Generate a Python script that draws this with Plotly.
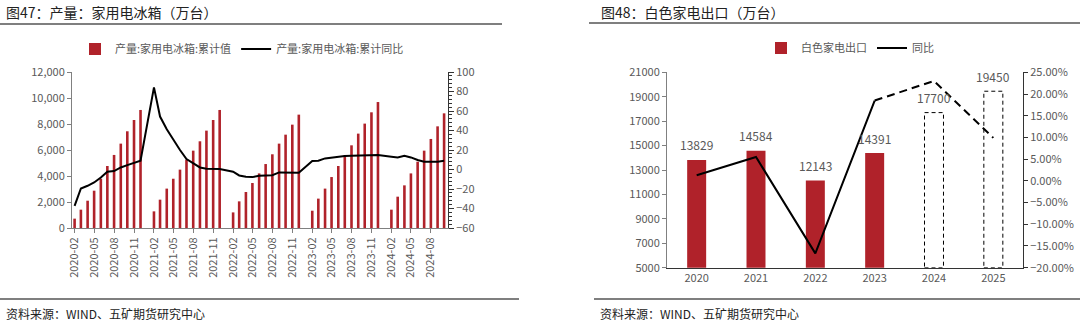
import plotly.graph_objects as go

# ---------------- data ----------------
months = [
    "2020-02", "2020-03", "2020-04", "2020-05", "2020-06", "2020-07", "2020-08", "2020-09", "2020-10", "2020-11", "2020-12",
    "2021-02", "2021-03", "2021-04", "2021-05", "2021-06", "2021-07", "2021-08", "2021-09", "2021-10", "2021-11", "2021-12",
    "2022-02", "2022-03", "2022-04", "2022-05", "2022-06", "2022-07", "2022-08", "2022-09", "2022-10", "2022-11", "2022-12",
    "2023-02", "2023-03", "2023-04", "2023-05", "2023-06", "2023-07", "2023-08", "2023-09", "2023-10", "2023-11", "2023-12",
    "2024-02", "2024-03", "2024-04", "2024-05", "2024-06", "2024-07", "2024-08", "2024-09", "2024-10",
]
fridge_cum = [
    720, 1410, 2100, 2870, 3790, 4770, 5620, 6490, 7440, 8310, 9080,
    1280, 2180, 3030, 3790, 4490, 5260, 5950, 6670, 7490, 8310, 9080,
    1200, 2050, 2770, 3460, 4200, 4920, 5670, 6490, 7180, 7950, 8720,
    1330, 2260, 3030, 3920, 4770, 5590, 6360, 7260, 8030, 8900, 9690,
    1410, 2410, 3280, 4200, 5100, 5950, 6850, 7820, 8820,
]
fridge_yoy = [
    -37.3, -19.5, -16.7, -13.3, -8.2, -2.3, -1.6, 2.1, 4.5, 6.6, 9.0,
    84.2, 54.3, 41.3, 30.3, 20.0, 10.7, 6.3, 2.1, 0.8, 0.4, 0.4,
    -2.3, -6.1, -7.5, -7.8, -6.4, -5.8, -5.8, -3.0, -3.0, -3.3, -3.3,
    8.7, 9.0, 11.4, 12.4, 13.1, 13.8, 14.2, 14.5, 14.5, 14.5, 14.8,
    13.1, 12.4, 14.2, 12.4, 9.7, 8.0, 8.0, 8.0, 9.0,
]

years = [2020, 2021, 2022, 2023, 2024, 2025]
export_val = [13829, 14584, 12143, 14391, 17700, 19450]
export_yoy = [1.3, 5.5, -16.7, 18.5, 23.0, 9.9]
n_actual = 4  # first 4 years actual, rest forecast

# ---------------- style ----------------
RED = "#B0222A"
GRAY_TXT = "#595959"
FONT = "Noto Sans CJK SC"
W, H = 1080, 324


def px_x(x):
    return x / W


def px_y(y):
    return 1 - y / H


fig = go.Figure()

# Left chart
fig.add_trace(go.Bar(
    x=months, y=fridge_cum, name="产量:家用电冰箱:累计值",
    marker=dict(color=RED, line=dict(width=0)), width=12 * 86400000,
    xaxis="x", yaxis="y", legend="legend",
))
fig.add_trace(go.Scatter(
    x=months, y=fridge_yoy, name="产量:家用电冰箱:累计同比", mode="lines",
    line=dict(color="black", width=2), xaxis="x", yaxis="y2", legend="legend",
))

# Right chart
fig.add_trace(go.Bar(
    x=years[:n_actual], y=export_val[:n_actual], name="白色家电出口",
    marker=dict(color=RED, line=dict(width=0)), width=0.32,
    xaxis="x2", yaxis="y3", legend="legend2",
))
fig.add_trace(go.Scatter(
    x=years[:n_actual], y=export_yoy[:n_actual], name="同比", mode="lines",
    line=dict(color="black", width=2), xaxis="x2", yaxis="y4", legend="legend2",
))
fig.add_trace(go.Scatter(
    x=years[n_actual - 1:], y=export_yoy[n_actual - 1:], name="同比预测", mode="lines",
    line=dict(color="black", width=2, dash="8px,5px"), xaxis="x2", yaxis="y4",
    showlegend=False,
))

Y3_MIN, Y3_MAX = 5000, 21000
shapes = []
for yr, v in zip(years[n_actual:], export_val[n_actual:]):
    shapes.append(dict(type="rect", xref="x2", yref="y3", x0=yr - 0.16, x1=yr + 0.16,
                       y0=Y3_MIN, y1=v, line=dict(color="black", width=1, dash="4px,3px"),
                       fillcolor="rgba(0,0,0,0)", layer="below"))

# decorative rules
shapes += [
    dict(type="line", xref="paper", yref="paper", x0=0, x1=px_x(502), y0=px_y(24), y1=px_y(24),
         line=dict(color="#7f7f7f", width=2)),
    dict(type="line", xref="paper", yref="paper", x0=px_x(589), x1=1, y0=px_y(23), y1=px_y(23),
         line=dict(color="#7f7f7f", width=2)),
    dict(type="line", xref="paper", yref="paper", x0=0, x1=px_x(519), y0=px_y(299), y1=px_y(299),
         line=dict(color="#7f7f7f", width=2)),
    dict(type="line", xref="paper", yref="paper", x0=px_x(594), x1=1, y0=px_y(299), y1=px_y(299),
         line=dict(color="#7f7f7f", width=2)),
]

annotations = [
    dict(text="图47：产量：家用电冰箱（万台）", xref="paper", yref="paper", x=px_x(4), y=px_y(12),
         xanchor="left", yanchor="middle", showarrow=False, font=dict(size=14, color="#222")),
    dict(text="图48：白色家电出口（万台）", xref="paper", yref="paper", x=px_x(599), y=px_y(12),
         xanchor="left", yanchor="middle", showarrow=False, font=dict(size=14, color="#222")),
    dict(text="资料来源：WIND、五矿期货研究中心", xref="paper", yref="paper", x=px_x(4), y=px_y(313),
         xanchor="left", yanchor="middle", showarrow=False, font=dict(size=12, color="#222")),
    dict(text="资料来源：WIND、五矿期货研究中心", xref="paper", yref="paper", x=px_x(598), y=px_y(313),
         xanchor="left", yanchor="middle", showarrow=False, font=dict(size=12, color="#222")),
]
# value labels above the export bars
for yr, v in zip(years, export_val):
    annotations.append(dict(text=str(v), xref="x2", yref="y3", x=yr, y=v, yshift=15,
                            xanchor="center", yanchor="middle", showarrow=False,
                            font=dict(size=12, color=GRAY_TXT)))

tickfont = dict(size=11, color=GRAY_TXT)

fig.update_layout(
    width=W, height=H,
    margin=dict(l=0, r=0, t=0, b=0),
    paper_bgcolor="white", plot_bgcolor="white",
    font=dict(family=FONT, size=11, color=GRAY_TXT),
    barmode="overlay",
    shapes=shapes, annotations=annotations,
    xaxis=dict(
        domain=[px_x(72), px_x(448)], anchor="y", type="date",
        range=["2020-01-20", "2024-10-19"], tick0="2020-02-01", dtick="M3",
        tickformat="%Y-%m", tickangle=-90, ticks="outside", ticklen=4,
        tickcolor="#808080", showline=True, linecolor="#808080", showgrid=False,
        tickfont=tickfont, automargin=False,
    ),
    yaxis=dict(
        domain=[px_y(228), px_y(72)], anchor="x", range=[0, 12000], dtick=2000,
        tickformat=",d", ticks="outside", ticklen=4, tickcolor="#808080",
        showline=True, linecolor="#808080", showgrid=False, zeroline=False,
        tickfont=tickfont, automargin=False,
    ),
    yaxis2=dict(
        overlaying="y", side="right", anchor="x", range=[-60, 100], dtick=20,
        ticks="outside", ticklen=5, tickcolor="#333", showline=True, linecolor="#333",
        minor=dict(dtick=4, ticks="outside", ticklen=3, tickcolor="#333"),
        showgrid=False, zeroline=False, tickfont=tickfont, automargin=False,
    ),
    xaxis2=dict(
        domain=[px_x(667), px_x(1023)], anchor="y3", range=[2019.5, 2025.5],
        tickvals=years, ticktext=[str(y) for y in years], ticks="",
        showline=True, linecolor="#333", showgrid=False, zeroline=False,
        tickfont=tickfont, automargin=False,
    ),
    yaxis3=dict(
        domain=[px_y(267.7), px_y(72.3)], anchor="x2", range=[Y3_MIN, Y3_MAX],
        tick0=Y3_MIN, dtick=2000,
        tickformat="d", ticks="outside", ticklen=4, tickcolor="#808080",
        showline=True, linecolor="#808080", showgrid=False, zeroline=False,
        tickfont=tickfont, automargin=False,
    ),
    yaxis4=dict(
        overlaying="y3", side="right", anchor="x2", range=[-20, 25], dtick=5,
        tickformat=".2f", ticksuffix="%", ticks="outside", ticklen=4, tickcolor="#333",
        showline=True, linecolor="#333", showgrid=False, zeroline=False,
        tickfont=tickfont, automargin=False,
    ),
    legend=dict(
        orientation="h", x=px_x(242), y=px_y(49), xanchor="center", yanchor="middle",
        font=dict(size=11, color=GRAY_TXT), bgcolor="rgba(0,0,0,0)",
        itemwidth=30, tracegroupgap=0,
    ),
    legend2=dict(
        orientation="h", x=px_x(850), y=px_y(48), xanchor="center", yanchor="middle",
        font=dict(size=11, color=GRAY_TXT), bgcolor="rgba(0,0,0,0)",
        itemwidth=30, tracegroupgap=0,
    ),
    showlegend=True,
)

fig.write_html("out.html")
